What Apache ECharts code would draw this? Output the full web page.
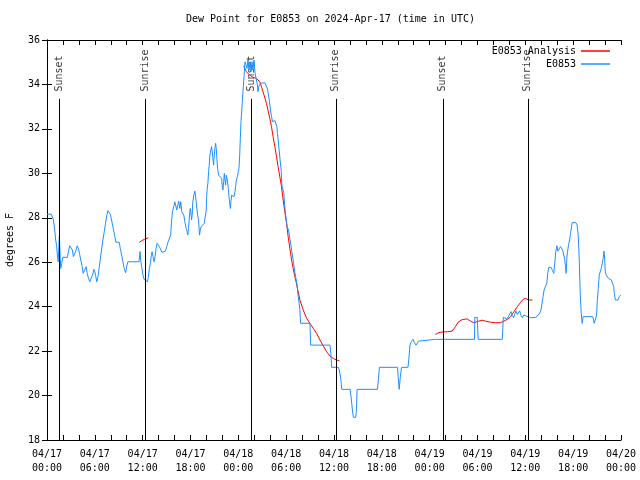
<!DOCTYPE html>
<html><head><meta charset="utf-8">
<script src="https://cdn.jsdelivr.net/npm/echarts@6/dist/echarts.min.js"></script>
<style>html,body{margin:0;padding:0;background:#fff}#c{width:640px;height:480px}</style>
</head><body><div id="c"></div>
<script>
// Time axis: hours since 2024-04-17 00:00 UTC
const xTickLabels = ['04/17\n00:00','04/17\n06:00','04/17\n12:00','04/17\n18:00','04/18\n00:00','04/18\n06:00',
  '04/18\n12:00','04/18\n18:00','04/19\n00:00','04/19\n06:00','04/19\n12:00','04/19\n18:00','04/20\n00:00'];
const yTicks = [18, 20, 22, 24, 26, 28, 30, 32, 34, 36];

const eventNames = ['Sunset', 'Sunrise', 'Sunset', 'Sunrise', 'Sunset', 'Sunrise'];
const eventHours = [1.57, 12.36, 25.65, 36.25, 49.67, 60.34];

// E0853 observations
const obsHours = [
  0, 0.55, 0.8, 0.97, 1.09, 1.22, 1.3, 1.4, 1.55, 1.72,
  1.85, 1.97, 2.56, 2.73, 2.85, 3.06, 3.19, 3.31, 3.52, 3.65,
  3.78, 3.94, 4.07, 4.24, 4.41, 4.53, 4.74, 4.91, 5.04, 5.2,
  5.37, 5.58, 5.75, 5.88, 6.0, 6.13, 6.25, 6.38, 6.5, 6.67,
  6.84, 7.01, 7.18, 7.34, 7.51, 7.64, 7.8, 7.97, 8.14, 8.31,
  8.48, 8.64, 9.06, 9.19, 9.36, 9.52, 9.69, 9.86, 9.99, 10.15,
  11.54, 11.67, 11.75, 11.87, 12.04, 12.17, 12.42, 12.59, 12.71, 12.84,
  12.97, 13.09, 13.18, 13.3, 13.43, 13.56, 13.68, 13.81, 13.93, 14.1,
  14.31, 14.43, 14.85, 15.02, 15.19, 15.36, 15.52, 15.61, 15.74, 15.9,
  16.03, 16.15, 16.28, 16.4, 16.53, 16.66, 16.78, 16.91, 17.03, 17.16,
  17.29, 17.46, 17.58, 17.66, 17.75, 17.88, 17.96, 18.04, 18.13, 18.21,
  18.29, 18.42, 18.54, 18.63, 18.71, 18.84, 18.97, 19.05, 19.13, 19.22,
  19.34, 19.55, 19.72, 19.89, 19.98, 20.01, 20.1, 20.18, 20.27, 20.35,
  20.43, 20.56, 20.64, 20.73, 20.81, 20.9, 20.98, 21.06, 21.15, 21.23,
  21.31, 21.4, 21.53, 21.65, 21.78, 21.9, 21.99, 22.07, 22.16, 22.24,
  22.32, 22.41, 22.49, 22.62, 22.74, 22.83, 22.91, 23.0, 23.07, 23.16,
  23.33, 23.45, 23.58, 23.66, 23.75, 23.88, 24.0, 24.08, 24.17, 24.25,
  24.33, 24.42, 24.5, 24.58, 24.67, 24.75, 24.84, 24.92, 25.01, 25.09,
  25.21, 25.34, 25.47, 25.59, 25.72, 25.84, 25.97, 26.1, 26.27, 26.4,
  26.47, 26.56, 26.77, 26.94, 27.32, 27.53, 27.66, 27.78, 27.91, 28.03,
  28.16, 28.29, 28.45, 28.58, 28.7, 28.83, 28.91, 29.04, 29.12, 29.24,
  29.37, 29.46, 29.54, 29.62, 29.71, 29.83, 29.96, 30.12, 30.3, 30.46,
  30.59, 30.71, 30.84, 30.93, 31.05, 31.18, 31.31, 31.38, 31.51, 31.63,
  31.72, 31.81, 32.98, 33.07, 35.5, 35.62, 35.71, 36.54, 36.67, 36.85,
  36.97, 38.02, 38.14, 38.31, 38.43, 38.73, 38.81, 38.9, 41.45, 41.58,
  41.7, 43.97, 44.06, 44.18, 44.31, 44.47, 45.28, 45.4, 45.53, 45.69,
  45.91, 46.07, 46.29, 46.45, 46.61, 46.74, 48.72, 48.84, 48.97, 53.62,
  53.66, 53.96, 54.09, 57.11, 57.24, 57.44, 57.65, 57.87, 58.03, 58.2,
  58.37, 58.54, 58.66, 58.82, 59.0, 59.12, 59.29, 59.45, 59.63, 59.79,
  59.96, 60.13, 60.3, 60.67, 61.3, 61.55, 61.72, 61.93, 62.06, 62.22,
  62.35, 62.56, 62.69, 62.81, 62.94, 63.23, 63.41, 63.57, 63.7, 63.82,
  63.95, 64.08, 64.24, 64.41, 64.54, 64.67, 64.79, 64.92, 65.04, 65.12,
  65.21, 65.29, 65.42, 65.55, 65.67, 65.8, 65.87, 66.34, 66.5, 66.63,
  66.76, 66.88, 67.01, 67.13, 67.26, 68.44, 68.57, 68.64, 68.86, 68.94,
  69.02, 69.15, 69.27, 69.4, 69.52, 69.65, 69.77, 69.86, 69.95, 70.03,
  70.15, 70.28, 70.41, 70.53, 70.66, 70.78, 70.96, 71.09, 71.16, 71.29,
  71.46, 71.63, 71.79, 71.97
];
const obsValues = [
  28.16, 28.16, 27.9, 27.45, 27.0, 26.7, 26.33, 26.02, 27.18, 25.72,
  25.95, 26.22, 26.22, 26.55, 26.74, 26.74, 26.55, 26.25, 26.25, 26.55,
  26.74, 26.62, 26.4, 26.1, 25.8, 25.5, 25.5, 25.8, 25.5, 25.28,
  25.12, 25.12, 25.47, 25.68, 25.57, 25.35, 25.12, 25.32, 25.62, 26.1,
  26.55, 27.0, 27.37, 27.75, 28.13, 28.32, 28.32, 28.13, 27.82, 27.52,
  27.22, 26.9, 26.9, 26.62, 26.33, 26.02, 25.72, 25.53, 25.8, 26.02,
  26.02, 26.48, 26.1, 25.8, 25.42, 25.23, 25.2, 25.12, 25.32, 25.72,
  25.95, 26.33, 26.47, 26.25, 26.02, 26.25, 26.62, 26.85, 26.89, 26.7,
  26.62, 26.44, 26.5, 26.7, 26.92, 26.92, 27.22, 27.82, 28.27, 28.5,
  28.72, 28.75, 28.35, 28.57, 28.75, 28.42, 28.72, 28.27, 28.2, 28.12,
  27.82, 27.52, 27.37, 27.22, 27.52, 28.12, 28.42, 28.27, 27.9, 28.12,
  28.72, 29.02, 29.2, 29.02, 28.72, 28.27, 27.97, 27.67, 27.22, 27.45,
  27.6, 27.67, 27.75, 27.82, 28.35, 28.87, 29.33, 29.55, 30.08, 30.37,
  30.82, 31.05, 31.2, 30.97, 30.67, 30.37, 30.82, 31.12, 31.35, 31.12,
  30.67, 30.22, 29.92, 29.85, 29.92, 29.78, 29.4, 29.25, 29.63, 30.0,
  29.7, 29.47, 29.92, 29.7, 29.33, 28.95, 28.65, 28.42, 28.72, 29.02,
  29.1, 28.95, 29.17, 29.4, 29.7, 29.85, 30.08, 30.22, 30.82, 31.57,
  32.32, 32.77, 33.22, 33.67, 34.12, 34.57, 35.02, 35.1, 35.1, 34.72,
  35.1, 34.65, 35.02, 34.57, 35.02, 34.65, 35.1, 34.5, 34.42, 33.97,
  33.67, 33.9, 34.05, 34.0, 34.08, 34.05, 33.8, 33.52, 33.22, 32.85,
  32.55, 32.32, 32.3, 32.38, 32.32, 32.1, 31.8, 31.35, 31.05, 30.6,
  30.15, 29.47, 29.4, 29.47, 29.1, 28.5, 28.05, 27.6, 27.45, 27.08,
  26.78, 26.48, 26.18, 25.95, 25.65, 25.35, 25.12, 24.9, 24.45, 24.15,
  23.85, 23.25, 23.25, 22.27, 22.27, 21.82, 21.27, 21.27, 21.15, 20.78,
  20.28, 20.28, 19.95, 19.35, 19.02, 19.02, 19.35, 20.28, 20.28, 20.78,
  21.27, 21.27, 20.8, 20.28, 20.8, 21.27, 21.27, 21.7, 22.27, 22.42,
  22.53, 22.4, 22.27, 22.35, 22.45, 22.53, 22.53, 22.47, 22.53, 22.53,
  23.52, 23.52, 22.53, 22.53, 23.52, 23.52, 23.45, 23.55, 23.6, 23.78,
  23.6, 23.5, 23.65, 23.81, 23.65, 23.6, 23.81, 23.6, 23.5, 23.62,
  23.55, 23.58, 23.52, 23.5, 23.52, 23.55, 23.66, 23.8, 24.07, 24.45,
  24.75, 24.75, 25.05, 25.5, 25.77, 25.77, 25.62, 25.5, 26.0, 26.47,
  26.74, 26.5, 26.5, 26.7, 26.74, 26.55, 26.47, 26.18, 25.8, 25.5,
  26.18, 26.47, 26.78, 27.0, 27.3, 27.6, 27.78, 27.78, 27.67, 27.22,
  26.18, 24.6, 23.7, 23.25, 23.55, 23.55, 23.4, 23.25, 23.25, 23.62,
  24.22, 24.82, 25.42, 25.5, 25.72, 25.8, 26.18, 26.5, 26.18, 25.57,
  25.42, 25.5, 25.28, 25.3, 25.28, 25.2, 25.13, 24.9, 24.6, 24.3,
  24.25, 24.3, 24.45, 24.52
];

// E0853 Analysis (three separate segments)
const ana1Hours = [11.58, 11.9, 12.21, 12.71];
const ana1Values = [26.9, 26.97, 27.03, 27.1];
const ana2Hours = [
  24.67, 25.01, 25.43, 25.84, 26.27, 26.69, 26.9, 27.1, 27.53, 27.95,
  28.16, 28.36, 28.58, 28.79, 28.99, 29.2, 29.42, 29.62, 29.83, 30.05,
  30.25, 30.46, 30.68, 30.88, 31.09, 31.31, 31.51, 31.72, 32.14, 32.57,
  32.98, 33.4, 33.82, 34.24, 34.66, 35.08, 35.5, 35.91, 36.34, 36.67];
const ana2Values = [
  34.83, 34.57, 34.42, 34.32, 34.27, 34.12, 33.9, 33.67, 33.15, 32.47,
  32.1, 31.65, 31.2, 30.75, 30.3, 29.85, 29.4, 28.8, 28.27, 27.75,
  27.15, 26.62, 26.1, 25.72, 25.35, 25.02, 24.67, 24.3, 23.85, 23.47,
  23.25, 23.02, 22.8, 22.5, 22.23, 21.97, 21.78, 21.67, 21.6, 21.57];
const ana3Hours = [
  48.72, 49.13, 49.56, 50.19, 50.82, 51.23, 51.57, 52.08, 52.71, 53.12,
  53.54, 54.17, 54.6, 55.02, 55.64, 56.27, 56.9, 57.32, 57.74, 58.16,
  58.58, 59.0, 59.42, 59.76, 60.05, 60.39, 60.89];
const ana3Values = [
  22.75, 22.83, 22.86, 22.87, 22.9, 23.1, 23.3, 23.42, 23.45, 23.35,
  23.28, 23.35, 23.39, 23.35, 23.3, 23.28, 23.28, 23.35, 23.43, 23.55,
  23.78, 24.0, 24.2, 24.34, 24.37, 24.3, 24.3];

const FONT = 'DejaVu Sans Mono';
const pairs = (h, v) => h.map((x, i) => [x, v[i]]);
const analysisData = [].concat(
  pairs(ana1Hours, ana1Values), [[18, '-']],
  pairs(ana2Hours, ana2Values), [[42, '-']],
  pairs(ana3Hours, ana3Values));
const obsData = pairs(obsHours, obsValues);

const yMin = yTicks[0], yMax = yTicks[yTicks.length - 1];
const LABEL_Y = 33.66, LINE_TOP_Y = 33.35;

const txt = {fontFamily: FONT, fontSize: 10, color: '#000'};
const axLine = {show: true, lineStyle: {color: '#000', width: 1}};

function xAxisCfg(pos, showLabel) {
  return {
    type: 'value', min: 0, max: 72, interval: 6, position: pos,
    axisLine: axLine,
    axisTick: {show: true, inside: true, length: 5, lineStyle: {color: '#000'}},
    minorTick: {show: true, splitNumber: 3, length: 5, lineStyle: {color: '#000'}},
    axisLabel: Object.assign({show: showLabel, margin: 7, lineHeight: 14,
      formatter: v => xTickLabels[Math.round(v / 6)]}, txt),
    splitLine: {show: false}, minorSplitLine: {show: false}
  };
}
function yAxisCfg(pos, showLabel) {
  return {
    type: 'value', min: yMin, max: yMax, interval: 2, position: pos,
    axisLine: axLine,
    axisTick: {show: true, inside: true, length: 5, lineStyle: {color: '#000'}},
    axisLabel: Object.assign({show: showLabel, margin: 7}, txt),
    splitLine: {show: false}
  };
}

const chart = echarts.init(document.getElementById('c'), null, {renderer: 'canvas'});
const yLeft = yAxisCfg('left', true);
yLeft.name = 'degrees F';
yLeft.nameLocation = 'middle';
yLeft.nameGap = 32;
yLeft.nameTextStyle = txt;

chart.setOption({
  animation: false,
  backgroundColor: '#fff',
  title: {text: 'Dew Point for E0853 on 2024-Apr-17 (time in UTC)', left: 186, top: 14, padding: 0,
    textStyle: Object.assign({fontWeight: 'normal'}, txt)},
  legend: [
    {data: ['E0853 Analysis'], right: 30, top: 46, orient: 'vertical', align: 'right', icon: 'rect',
     itemWidth: 29, itemHeight: 1.5, padding: 0, selectedMode: false, textStyle: txt},
    {data: ['E0853'], right: 30, top: 59, orient: 'vertical', align: 'right', icon: 'rect',
     itemWidth: 29, itemHeight: 1.5, padding: 0, selectedMode: false, textStyle: txt}
  ],
  grid: {left: 47, right: 19, top: 40, bottom: 40, containLabel: false, outerBoundsMode: 'none'},
  xAxis: [xAxisCfg('bottom', true), xAxisCfg('top', false)],
  yAxis: [yLeft, yAxisCfg('right', false)],
  series: [
    {name: 'E0853 Analysis', type: 'line', data: analysisData, symbol: 'none', silent: true,
     connectNulls: false, lineStyle: {color: '#ff0000', width: 1}, itemStyle: {color: '#ff0000'}},
    {name: 'E0853', type: 'line', data: obsData, symbol: 'none', silent: true,
     lineStyle: {color: '#1e90ff', width: 1}, itemStyle: {color: '#1e90ff'}},
    {name: 'events', type: 'scatter', silent: true, symbolSize: 1, itemStyle: {color: 'transparent'},
     data: eventHours.map((h, i) => ({value: [h, LABEL_Y], name: eventNames[i]})),
     label: Object.assign({show: true, formatter: '{b}', position: [0, 0], rotate: 90,
       align: 'left', verticalAlign: 'middle'}, txt),
     markLine: {silent: true, symbol: 'none', label: {show: false},
       lineStyle: {color: '#000', width: 1, type: 'solid'},
       data: eventHours.map(h => [{coord: [h, LINE_TOP_Y]}, {coord: [h, yMin]}])}}
  ]
});
</script></body></html>
